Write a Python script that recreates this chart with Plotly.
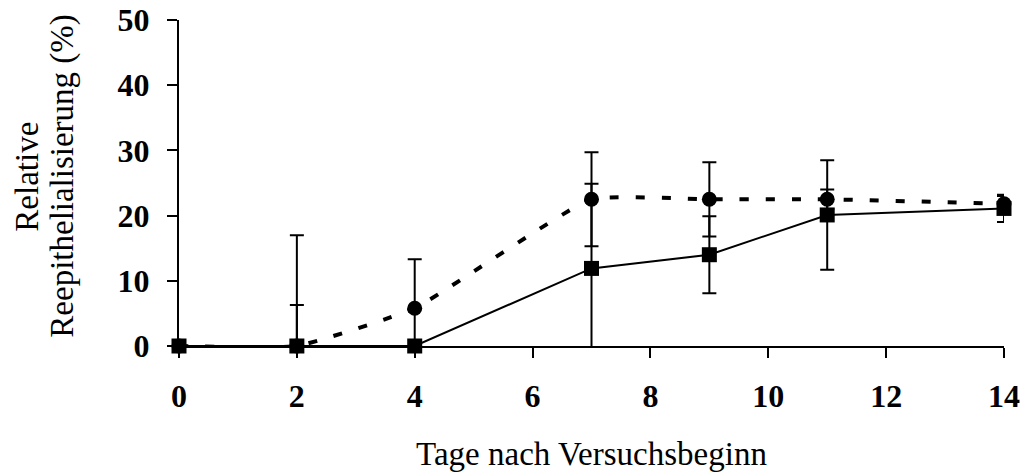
import plotly.graph_objects as go

# Tage nach Versuchsbeginn
tage = [0, 2, 4, 7, 9, 11, 14]

# Serie mit Kreisen (gestrichelt, geglaettet)
kreis_y = [0, 0, 5.8, 22.5, 22.5, 22.5, 21.8]
kreis_plus = [0, 17.0, 7.5, 7.2, 5.7, 1.5, 1.2]
kreis_minus = [0, 0, 7.5, 7.2, 5.7, 1.5, 1.2]

# Serie mit Quadraten (durchgezogen)
quad_y = [0, 0, 0, 11.9, 14.0, 20.1, 21.1]
quad_plus = [0, 6.3, 0, 13.0, 5.9, 8.4, 2.1]
quad_minus = [0, 0, 0, 13.0, 5.9, 8.4, 2.1]

x_ticks = [0, 2, 4, 6, 8, 10, 12, 14]
y_ticks = [0, 10, 20, 30, 40, 50]

serif = "Liberation Serif, Times New Roman, serif"

fig = go.Figure()

fig.add_trace(go.Scatter(
    x=tage, y=kreis_y, mode="lines+markers",
    line=dict(color="black", width=4, dash="9px,17px", shape="spline", smoothing=0.4),
    marker=dict(symbol="circle", size=15, color="black"),
    error_y=dict(type="data", symmetric=False, array=kreis_plus, arrayminus=kreis_minus,
                 color="black", thickness=2, width=7),
    cliponaxis=False, showlegend=False,
))

fig.add_trace(go.Scatter(
    x=tage, y=quad_y, mode="lines+markers",
    line=dict(color="black", width=2),
    marker=dict(symbol="square", size=15, color="black"),
    error_y=dict(type="data", symmetric=False, array=quad_plus, arrayminus=quad_minus,
                 color="black", thickness=2, width=7),
    cliponaxis=False, showlegend=False,
))

fig.update_layout(
    width=1020, height=472,
    margin=dict(l=179, r=16, t=20, b=126),
    paper_bgcolor="white", plot_bgcolor="white",
    font=dict(family=serif, color="black"),
)

# y title as two rotated lines (tighter line spacing than axis title)
fig.add_annotation(text="Relative", xref="paper", yref="paper", x=-0.184, y=0.52,
                   xanchor="center", yanchor="middle", textangle=-90, showarrow=False,
                   font=dict(family=serif, size=33, color="black"))
fig.add_annotation(text="Reepithelialisierung (%)", xref="paper", yref="paper", x=-0.1416, y=0.52,
                   xanchor="center", yanchor="middle", textangle=-90, showarrow=False,
                   font=dict(family=serif, size=33, color="black"))

fig.update_xaxes(
    range=[0, 14], tickvals=x_ticks, showgrid=False, zeroline=False,
    showline=True, linecolor="black", linewidth=2, automargin=False,
    ticks="outside", ticklen=10, tickwidth=2, tickcolor="black",
    tickfont=dict(family=serif, size=32, color="black", weight="bold"),
    ticklabelstandoff=11, ticklabeloverflow="allow",
    title=dict(text="Tage nach Versuchsbeginn", font=dict(family=serif, size=33), standoff=36),
)

fig.update_yaxes(
    range=[0, 50], tickvals=y_ticks, showgrid=False, zeroline=False,
    showline=True, linecolor="black", linewidth=2, automargin=False,
    ticks="outside", ticklen=10, tickwidth=2, tickcolor="black",
    tickfont=dict(family=serif, size=32, color="black", weight="bold"),
    ticklabelstandoff=11, ticklabeloverflow="allow",
)

# drop the default body margin so the figure fills the window
fig.write_html("out.html", config={"displayModeBar": False},
               post_script="document.body.style.margin='0';")
